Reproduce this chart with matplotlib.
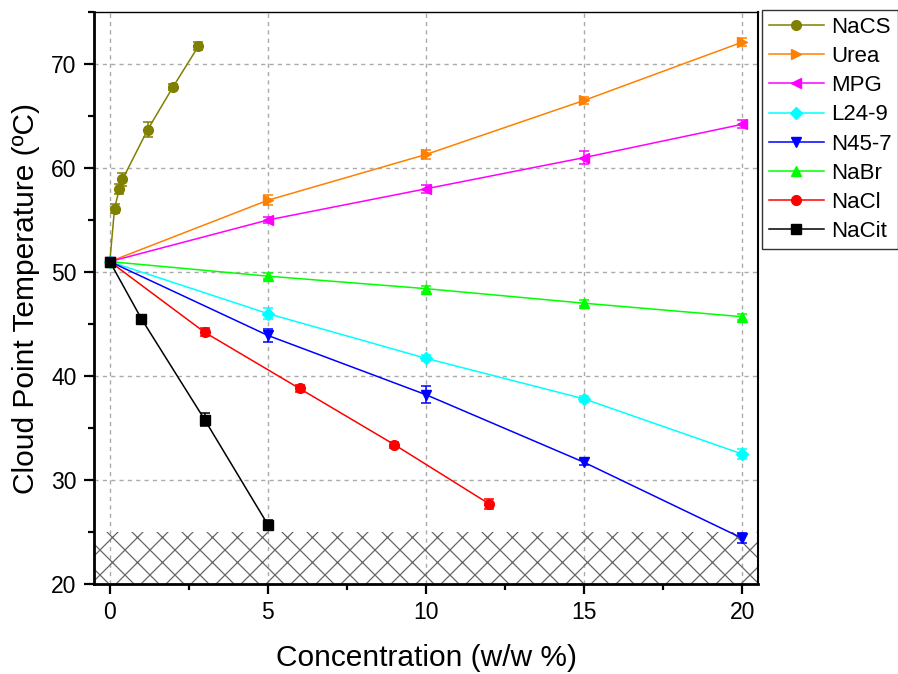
import matplotlib
matplotlib.use("Agg")
import matplotlib.pyplot as plt
from matplotlib.ticker import MultipleLocator
from matplotlib.lines import Line2D
from matplotlib.backend_bases import GraphicsContextBase

# slightly denser hatch than matplotlib's default
_orig_hatch = GraphicsContextBase.get_hatch_path
def _dense_hatch(self, density=8.0):
    return _orig_hatch(self, 8.0)
GraphicsContextBase.get_hatch_path = _dense_hatch

plt.rcParams['font.family'] = ['Liberation Sans', 'DejaVu Sans']
plt.rcParams['hatch.linewidth'] = 0.9
plt.rcParams['hatch.color'] = '#666666'

series_names = ["NaCS", "Urea", "MPG", "L24-9", "N45-7", "NaBr", "NaCl", "NaCit"]

nacs_x = [0, 0.15, 0.3, 0.4, 1.2, 2.0, 2.8]
nacs_y = [51.0, 56.1, 58.0, 58.9, 63.7, 67.8, 71.7]
nacs_e = [0.3, 0.4, 0.5, 0.6, 0.7, 0.3, 0.4]

urea_x = [0, 5, 10, 15, 20]
urea_y = [51.0, 56.9, 61.3, 66.5, 72.1]
urea_e = [0.3, 0.5, 0.4, 0.3, 0.4]

mpg_x = [0, 5, 10, 15, 20]
mpg_y = [51.0, 55.0, 58.0, 61.0, 64.2]
mpg_e = [0.3, 0.3, 0.4, 0.6, 0.4]

l249_x = [0, 5, 10, 15, 20]
l249_y = [51.0, 46.0, 41.7, 37.8, 32.5]
l249_e = [0.3, 0.5, 0.3, 0.3, 0.5]

n457_x = [0, 5, 10, 15, 20]
n457_y = [51.0, 43.9, 38.2, 31.7, 24.4]
n457_e = [0.3, 0.6, 0.8, 0.3, 0.5]

nabr_x = [0, 5, 10, 15, 20]
nabr_y = [51.0, 49.6, 48.4, 47.0, 45.7]
nabr_e = [0.3, 0.3, 0.3, 0.3, 0.3]

nacl_x = [0, 3, 6, 9, 12]
nacl_y = [51.0, 44.2, 38.8, 33.4, 27.7]
nacl_e = [0.3, 0.4, 0.3, 0.3, 0.5]

nacit_x = [0, 1, 3, 5]
nacit_y = [51.0, 45.5, 35.8, 25.7]
nacit_e = [0.3, 0.4, 0.6, 0.5]

xticks = [0, 5, 10, 15, 20]
yticks = [20, 30, 40, 50, 60, 70]

data = [
    (nacs_x, nacs_y, nacs_e, "#808000", "o"),
    (urea_x, urea_y, urea_e, "#ff8000", ">"),
    (mpg_x, mpg_y, mpg_e, "#ff00ff", "<"),
    (l249_x, l249_y, l249_e, "#00ffff", "D"),
    (n457_x, n457_y, n457_e, "#0000ff", "v"),
    (nabr_x, nabr_y, nabr_e, "#00ff00", "^"),
    (nacl_x, nacl_y, nacl_e, "#ff0000", "o"),
    (nacit_x, nacit_y, nacit_e, "#000000", "s"),
]

fig = plt.figure(figsize=(8.98, 6.74), dpi=100)
ax = fig.add_axes([94/898, 1-584/674, (758-94)/898, (584-12)/674])

ax.set_xlim(-0.5, 20.5)
ax.set_ylim(20, 75)

# hatched region below 25
ax.fill_between([-0.5, 20.5], 20, 25, facecolor='none', edgecolor='#666666',
                hatch='x', linewidth=0, zorder=1)

handles = []
for (x, y, e, c, m), name in zip(data, series_names):
    ms = 6.5 if m == "D" else 7
    ax.errorbar(x, y, yerr=e, color=c, marker=m, markersize=ms, linewidth=1.1,
                elinewidth=1.1, capsize=3.5, capthick=1.1, zorder=3)
    handles.append(Line2D([], [], color=c, marker=m, markersize=ms, linewidth=1.1))

ax.set_xticks(xticks)
ax.set_yticks(yticks)
ax.xaxis.set_minor_locator(MultipleLocator(2.5))
ax.yaxis.set_minor_locator(MultipleLocator(5))
ax.tick_params(axis='both', which='major', direction='out', length=7.5, width=1.6,
               labelsize=16.5, pad=5, top=False, right=False)
ax.tick_params(axis='both', which='minor', direction='out', length=4, width=1.6,
               top=False, right=False)
ax.grid(True, which='major', linestyle=(0, (3, 3)), color='#aaaaaa', linewidth=1.0, zorder=0)
ax.set_axisbelow(True)
for s in ['left', 'bottom']:
    ax.spines[s].set_linewidth(2)
ax.spines['right'].set_linewidth(1.5)
ax.spines['top'].set_linewidth(1.0)

ax.set_xlabel("Concentration (w/w %)", fontsize=21.5, labelpad=14)
ax.set_ylabel("Cloud Point Temperature (ºC)", fontsize=21.5, labelpad=8)

leg = fig.legend(handles=handles, labels=series_names, loc='upper left',
                 bbox_to_anchor=(762/898, 1-10/674), bbox_transform=fig.transFigure,
                 fontsize=16, frameon=True, fancybox=False, borderaxespad=0,
                 handlelength=2.5, labelspacing=0.37, handletextpad=0.3,
                 borderpad=0.3)
leg.get_frame().set_edgecolor('black')
leg.get_frame().set_linewidth(1.0)

fig.savefig("out.png", dpi=100)
